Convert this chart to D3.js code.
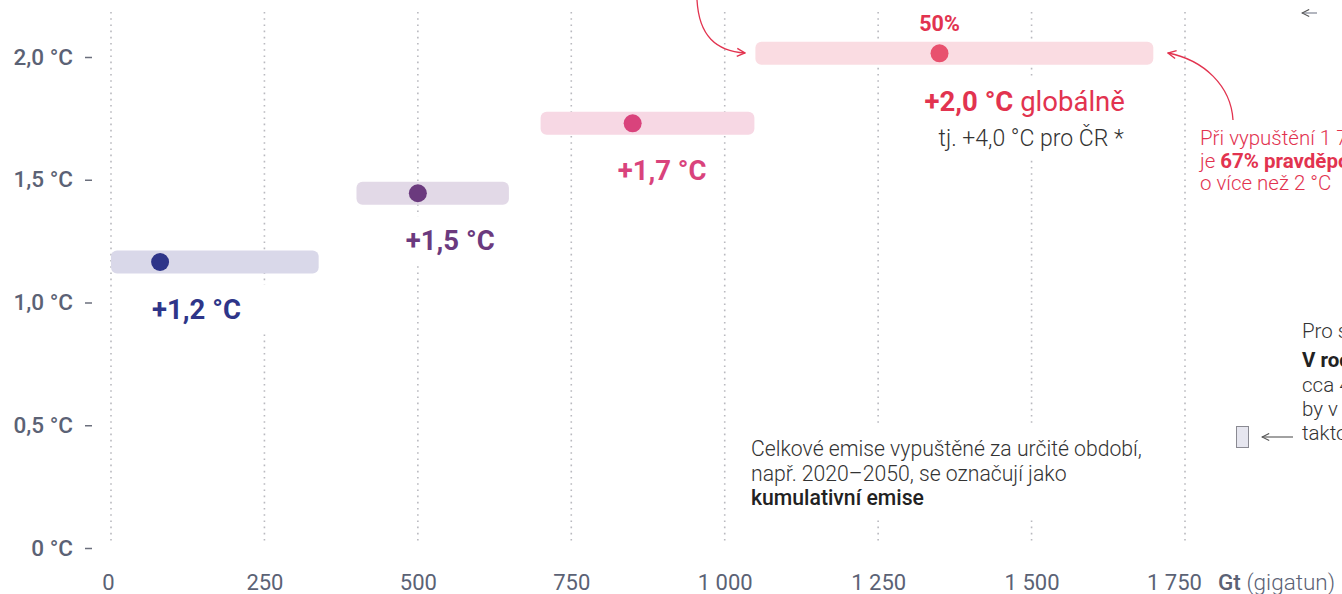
<!DOCTYPE html>
<html>
<head>
<meta charset="utf-8">
<script src="https://cdn.jsdelivr.net/npm/d3@7/dist/d3.min.js"></script>
<style>
  html, body { margin: 0; padding: 0; background: #fff; }
  svg { display: block; font-family: Roboto, "Noto Sans", sans-serif; }
</style>
</head>
<body>
<svg id="chart" width="1342" height="594"></svg>
<script>
// ---- data ----
const scenarios   = ["+1,2 °C", "+1,5 °C", "+1,7 °C", "+2,0 °C"];
const temps       = [1.165, 1.445, 1.73, 2.015];
const rangeLow    = [0, 400, 700, 1050];
const rangeHigh   = [340, 650, 1050, 1700];
const medians     = [80, 500, 850, 1350];
const xTicks      = [0, 250, 500, 750, 1000, 1250, 1500, 1750];
const xTickLabels = ["0", "250", "500", "750", "1 000", "1 250", "1 500", "1 750"];
const yTicks      = [0, 0.5, 1, 1.5, 2];
const yTickLabels = ["0 °C", "0,5 °C", "1,0 °C", "1,5 °C", "2,0 °C"];

// ---- styles ----
const barFill = ["#d9d8e9", "#e2d9e7", "#f7d8e4", "#fadce2"];
const dotFill = ["#2e3589", "#6b3a7e", "#d9437c", "#e8516e"];
const lblFill = ["#2e3589", "#6b3a7e", "#d9437c", "#e2334f"];
const lblShift = [-8, -12, -15];
const red = "#e2334f";
const axisGray = "#5b6275";
const dark = "#333";

const svg = d3.select("#chart");
const x = d3.scaleLinear().domain([0, 1750]).range([111, 1185]);
const y = d3.scaleLinear().domain([0, 2]).range([548, 57]);

// grid
const grid = svg.append("g");
grid.selectAll("line").data(xTicks).join("line")
  .attr("x1", d => x(d)).attr("x2", d => x(d))
  .attr("y1", 12).attr("y2", 545)
  .attr("stroke", "#b9b9bf").attr("stroke-width", 1.6)
  .attr("stroke-dasharray", "1.6 4.6");

// layer for white label backgrounds (above grid)
const bgLayer = svg.append("g");

// x axis
const xAxis = d3.axisBottom(x).tickValues(xTicks)
  .tickFormat((d, i) => xTickLabels[i]).tickSize(0).tickPadding(0);
const gx = svg.append("g").attr("transform", "translate(0,573)").call(xAxis);
gx.select(".domain").remove();
gx.selectAll("text").attr("font-size", 22).attr("fill", axisGray)
  .attr("font-family", "Roboto").attr("dy", "0.76em");
gx.selectAll(".tick").filter(d => d === 0).select("text").attr("dx", -3);
gx.selectAll(".tick").filter(d => d === 1750).select("text").attr("dx", -11);

svg.append("text").attr("x", 1218).attr("y", 590).attr("font-size", 22.5)
  .attr("fill", axisGray)
  .call(t => {
    t.append("tspan").attr("font-weight", 500).text("Gt ");
    t.append("tspan").attr("font-weight", 300).text("(gigatun)");
  });

// y axis
const yAxis = d3.axisLeft(y).tickValues(yTicks)
  .tickFormat((d, i) => yTickLabels[i]).tickSize(7).tickPadding(12);
const gy = svg.append("g").attr("transform", "translate(92,0)").call(yAxis);
gy.select(".domain").remove();
gy.selectAll(".tick line").attr("stroke", "#6b6f7c").attr("stroke-width", 1.5);
gy.selectAll("text").attr("font-size", 22.5).attr("font-weight", 500)
  .attr("fill", axisGray).attr("font-family", "Roboto");

// bars
const idx = d3.range(scenarios.length);
const barH = 23;
svg.append("g").selectAll("rect").data(idx).join("rect")
  .attr("x", i => x(rangeLow[i]))
  .attr("width", i => x(rangeHigh[i]) - x(rangeLow[i]) - 1)
  .attr("y", i => y(temps[i]) - barH / 2)
  .attr("height", barH)
  .attr("rx", 6)
  .attr("fill", i => barFill[i]);

// dots
svg.append("g").selectAll("circle").data(idx).join("circle")
  .attr("cx", i => x(medians[i]))
  .attr("cy", i => y(temps[i]))
  .attr("r", 9)
  .attr("fill", i => dotFill[i]);

function addBg(sel, padX, padY) {
  const b = sel.node().getBBox();
  bgLayer.append("rect")
    .attr("x", b.x - padX).attr("y", b.y - padY)
    .attr("width", b.width + 2 * padX).attr("height", b.height + 2 * padY)
    .attr("fill", "#fff");
}

// labels under bars (first three)
idx.slice(0, 3).forEach(i => {
  const t = svg.append("text")
    .attr("x", x(medians[i]) + lblShift[i])
    .attr("y", y(temps[i]) + 57)
    .attr("font-size", 27.5).attr("font-weight", 700)
    .attr("fill", lblFill[i])
    .text(scenarios[i]);
  addBg(t, i === 0 ? 26 : 8, 8);
});

// 2.0 scenario labels
const i4 = 3;
svg.append("text").attr("x", x(medians[i4])).attr("y", 31)
  .attr("text-anchor", "middle").attr("font-size", 21.5).attr("font-weight", 700)
  .attr("fill", red).text("50%");

const t20 = svg.append("text").attr("x", x(medians[i4]) - 15).attr("y", 111)
  .attr("font-size", 27.5).attr("fill", red);
t20.append("tspan").attr("font-weight", 700).text(scenarios[i4]);
t20.append("tspan").attr("font-weight", 400).text(" globálně");
const tj = svg.append("text").attr("x", x(medians[i4]) - 1).attr("y", 146)
  .attr("font-size", 23).attr("font-weight", 300).attr("fill", dark)
  .text("tj. +4,0 °C pro ČR *");
addBg(t20, 8, 8);
addBg(tj, 8, 8);

// arrows
const defs = svg.append("defs");
defs.append("marker").attr("id", "arrRed").attr("viewBox", "0 0 10 10")
  .attr("refX", 9).attr("refY", 5).attr("markerWidth", 10).attr("markerHeight", 10)
  .attr("markerUnits", "userSpaceOnUse").attr("orient", "auto")
  .append("path").attr("d", "M1,1 L9,5 L1,9").attr("fill", "none")
  .attr("stroke", red).attr("stroke-width", 1.4);
defs.append("marker").attr("id", "arrGray").attr("viewBox", "0 0 10 10")
  .attr("refX", 9).attr("refY", 5).attr("markerWidth", 9).attr("markerHeight", 9)
  .attr("markerUnits", "userSpaceOnUse").attr("orient", "auto")
  .append("path").attr("d", "M1,1 L9,5 L1,9").attr("fill", "none")
  .attr("stroke", "#555").attr("stroke-width", 1.2);

svg.append("path").attr("d", "M697,0 C699,36 716,51 745,53")
  .attr("fill", "none").attr("stroke", red).attr("stroke-width", 1.3)
  .attr("marker-end", "url(#arrRed)");
svg.append("path").attr("d", "M1233,120 C1231,86 1204,60 1168,53")
  .attr("fill", "none").attr("stroke", red).attr("stroke-width", 1.3)
  .attr("marker-end", "url(#arrRed)");

// red annotation at right
const redLines = [
  [["Při vypuštění 1 700 Gt", 300]],
  [["je ", 300], ["67% pravděpodobnost", 700], [" oteplení", 300]],
  [["o více než 2 °C", 300]]
];
redLines.forEach((ln, k) => {
  const t = svg.append("text").attr("x", 1200).attr("y", 145 + k * 22.5)
    .attr("font-size", 20.5).attr("fill", red);
  ln.forEach(s => t.append("tspan").attr("font-weight", s[1]).text(s[0]));
});

// bottom annotation
const noteLines = [
  [["Celkové emise vypuštěné za určité období,", 300]],
  [["např. 2020–2050, se označují jako", 300]],
  [["kumulativní emise", 500]]
];
const noteG = svg.append("g");
noteLines.forEach((ln, k) => {
  const t = noteG.append("text").attr("x", 751).attr("y", 456 + k * 24.5)
    .attr("font-size", 21.2).attr("fill", k === 2 ? "#222" : dark);
  ln.forEach(s => t.append("tspan").attr("font-weight", s[1]).text(s[0]));
});
addBg(noteG, 8, 10);

// right comparison annotation
const cmpLines = [
  [["Pro srovnání:", 300]],
  [["V roce 2022", 700], [" svět vypustil", 300]],
  [["cca 40 Gt CO₂, což", 300]],
  [["by v grafu vypadalo", 300]],
  [["takto", 300]]
];
const cmpY = [338, 367, 392, 416, 440];
cmpLines.forEach((ln, k) => {
  const t = svg.append("text").attr("x", 1302).attr("y", cmpY[k])
    .attr("font-size", 20.5).attr("fill", k === 1 ? "#222" : dark);
  ln.forEach(s => t.append("tspan").attr("font-weight", s[1]).text(s[0]));
});
svg.append("rect").attr("x", 1236.5).attr("y", 426.5).attr("width", 12).attr("height", 21)
  .attr("fill", "#e6e6ef").attr("stroke", "#8a8a92").attr("stroke-width", 1);
svg.append("line").attr("x1", 1293).attr("x2", 1262).attr("y1", 437).attr("y2", 437)
  .attr("stroke", "#555").attr("stroke-width", 1.1)
  .attr("marker-end", "url(#arrGray)");

// top right gray arrow (cut off)
svg.append("line").attr("x1", 1317).attr("x2", 1302).attr("y1", 13).attr("y2", 13)
  .attr("stroke", "#8a8f9c").attr("stroke-width", 1.3)
  .attr("marker-end", "url(#arrGray)");
</script>
</body>
</html>
